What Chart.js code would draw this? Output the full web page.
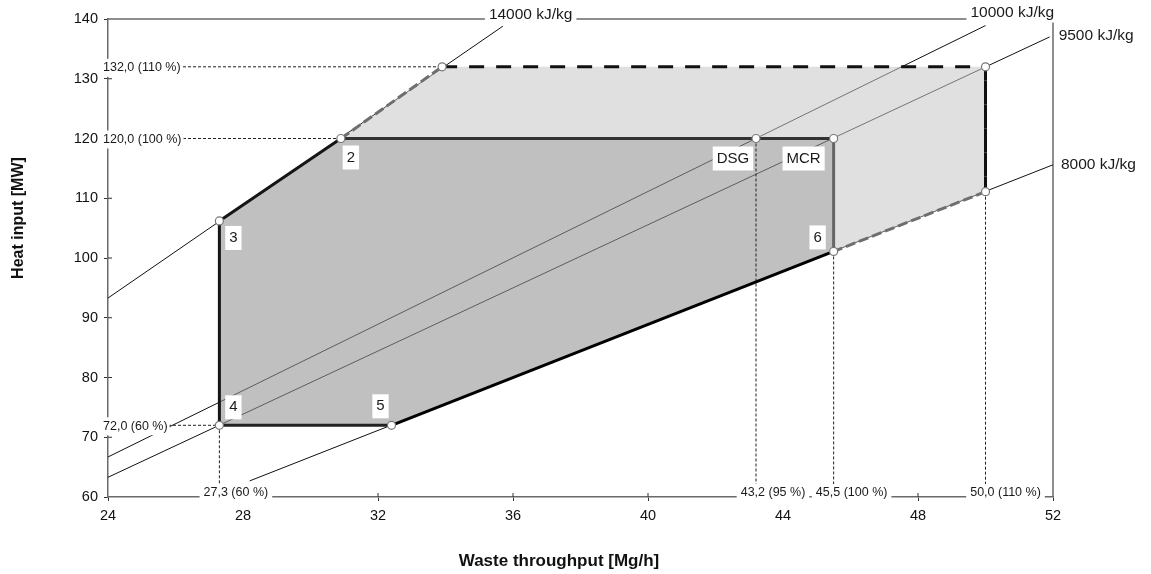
<!DOCTYPE html>
<html lang="en">
<head>
<meta charset="UTF-8">
<title>Combustion diagram</title>
<script src="https://cdn.jsdelivr.net/npm/chart.js"></script>
<style>
  body { margin: 0; background: #fff; }
</style>
</head>
<body>
<canvas id="myChart" width="1151" height="574"></canvas>
<script>
// calorific value lines, end points
const lhvNames = ['14000 kJ/kg', '10000 kJ/kg', '9500 kJ/kg', '8000 kJ/kg'];
const lhvX = [[24, 35.7], [24, 50.0], [24, 51.9], [28.2, 52.0]];
const lhvY = [[93.3, 138.8], [66.7, 138.9], [63.3, 137.0], [62.7, 115.6]];

// operating envelope 3 - 2 - MCR - 6 - 5 - 4
const envNames = ['3', '2', 'MCR', '6', '5', '4'];
const envX = [27.3, 30.9, 45.5, 45.5, 32.4, 27.3];
const envY = [106.2, 120.0, 120.0, 101.1, 72.0, 72.0];

// 110 % overload area: 2 - corner - corner - corner - 6
const overX = [30.9, 33.9, 50.0, 50.0, 45.5];
const overY = [120.0, 132.0, 132.0, 111.1, 101.1];

const dsgX = 43.2, dsgY = 120.0;

// reference values marked on the axes
const refYVals = [132.0, 120.0, 72.0];
const refYEnds = [33.9, 30.9, 27.3];
const refYLabels = ['132,0 (110 %)', '120,0 (100 %)', '72,0 (60 %)'];
const refXVals = [27.3, 43.2, 45.5, 50.0];
const refXStarts = [72.0, 120.0, 101.1, 111.1];
const refXLabels = ['27,3 (60 %)', '43,2 (95 %)', '45,5 (100 %)', '50,0 (110 %)'];

const xTicks = [24, 28, 32, 36, 40, 44, 48, 52];
const yTicks = [60, 70, 80, 90, 100, 110, 120, 130, 140];

const FONT = '"Liberation Sans", Arial, sans-serif';
const AXIS = '#6a6a6a';

function pts(xs, ys) {
    return xs.map((x, i) => ({ x: x, y: ys[i] }));
}

const envPts = pts(envX, envY);
const overPts = pts(overX, overY);

// drawn bottom to top, reversed below (Chart.js puts index 0 on top)
let layers = [];

lhvX.forEach((xs, i) => {
    layers.push({ data: pts(xs, lhvY[i]), borderColor: '#111', borderWidth: 1 });
});

// light grey overload area
layers.push({
    data: overPts.concat([envPts[2], overPts[0]]),
    fill: 'shape', backgroundColor: 'rgba(199,199,199,0.55)',
    borderColor: 'transparent', borderWidth: 0
});
// darker grey operating area
layers.push({
    data: envPts.concat([envPts[0]]),
    fill: 'shape', backgroundColor: 'rgba(147,147,147,0.58)',
    borderColor: 'transparent', borderWidth: 0
});

// dotted reference lines
refYVals.forEach((v, i) => {
    layers.push({ data: [{ x: 24, y: v }, { x: refYEnds[i], y: v }],
        borderColor: '#222', borderWidth: 1, borderDash: [3, 2] });
});
refXVals.forEach((v, i) => {
    layers.push({ data: [{ x: v, y: refXStarts[i] }, { x: v, y: 60 }],
        borderColor: '#222', borderWidth: 1, borderDash: [3, 2] });
});

// dashed border of the overload area
const overColors = ['#6e6e6e', '#111', '#111', '#6e6e6e'];
const overDash = [[10, 4], [15, 12], [14, 10], [10, 4]];
layers.push({
    data: overPts, borderWidth: 3,
    segment: {
        borderColor: c => overColors[c.p0DataIndex],
        borderDash: c => overDash[c.p0DataIndex]
    }
});

// solid border of the operating area
const envColors = ['#151515', '#333', '#666', '#000', '#222', '#151515'];
layers.push({
    data: envPts.concat([envPts[0]]), borderWidth: 3,
    segment: { borderColor: c => envColors[c.p0DataIndex] }
});

// small circles at the corners
layers.push({
    data: envPts.concat(overPts.slice(1, 4), [{ x: dsgX, y: dsgY }]),
    showLine: false, pointRadius: 4, pointBorderWidth: 1.2,
    pointBackgroundColor: '#fff', pointBorderColor: '#777'
});

layers.forEach(d => {
    if (d.showLine === undefined) { d.showLine = true; d.pointRadius = 0; }
});
layers.reverse();

function textBox(ctx, text, x, y, font, align, padX, h) {
    ctx.font = font;
    const w = ctx.measureText(text).width;
    const left = align === 'left' ? x : x - w / 2;
    ctx.fillStyle = '#fff';
    ctx.fillRect(left - padX, y - h / 2, w + 2 * padX, h);
    ctx.fillStyle = '#1a1a1a';
    ctx.textAlign = 'left';
    ctx.textBaseline = 'middle';
    ctx.fillText(text, left, y);
}

// top and right frame lines plus the inner half of the tick marks
const framePlugin = {
    id: 'frame',
    beforeDatasetsDraw(chart) {
        const ctx = chart.ctx, xs = chart.scales.x, ys = chart.scales.y;
        const l = xs.getPixelForValue(24), r = xs.getPixelForValue(52);
        const t = ys.getPixelForValue(140), b = ys.getPixelForValue(60);
        ctx.save();
        ctx.strokeStyle = AXIS;
        ctx.lineWidth = 1.5;
        ctx.beginPath();
        ctx.moveTo(l, t); ctx.lineTo(r, t); ctx.lineTo(r, b);
        ctx.stroke();
        ctx.lineWidth = 1;
        ctx.strokeStyle = '#333';
        ctx.beginPath();
        xTicks.slice(1, -1).forEach(v => {
            const p = xs.getPixelForValue(v);
            ctx.moveTo(p, b); ctx.lineTo(p, b - 4);
        });
        yTicks.slice(1, -1).forEach(v => {
            const p = ys.getPixelForValue(v);
            ctx.moveTo(l, p); ctx.lineTo(l + 4, p);
        });
        ctx.stroke();
        ctx.restore();
    }
};

const labelPlugin = {
    id: 'labels',
    afterDatasetsDraw(chart) {
        const ctx = chart.ctx, xs = chart.scales.x, ys = chart.scales.y;
        const small = '12.5px ' + FONT, mid = '15px ' + FONT, big = '15.5px ' + FONT;
        ctx.save();

        refYVals.forEach((v, i) => {
            textBox(ctx, refYLabels[i], xs.getPixelForValue(24) - 5,
                ys.getPixelForValue(v) + 1, small, 'left', 2, 18);
        });
        const refXdx = [16.5, 17, 18, 20];
        refXVals.forEach((v, i) => {
            textBox(ctx, refXLabels[i], xs.getPixelForValue(v) + refXdx[i],
                ys.getPixelForValue(60) - 4, small, 'center', 4, 18);
        });

        const envDx = [14, 10, -30, -16, -11, 14];
        const envDy = [17, 19, 20, -14, -19, -18];
        envNames.forEach((n, i) => {
            textBox(ctx, n, xs.getPixelForValue(envX[i]) + envDx[i],
                ys.getPixelForValue(envY[i]) + envDy[i], mid, 'center', 4, 24);
        });
        textBox(ctx, 'DSG', xs.getPixelForValue(dsgX) - 23,
            ys.getPixelForValue(dsgY) + 20, mid, 'center', 4, 24);

        const lhvDx = [-14, -15, 9, 8];
        const lhvDy = [-11, -13, -1, 0];
        lhvNames.forEach((n, i) => {
            textBox(ctx, n, xs.getPixelForValue(lhvX[i][1]) + lhvDx[i],
                ys.getPixelForValue(lhvY[i][1]) + lhvDy[i], big, 'left', 4, 20);
        });

        // axis titles
        ctx.fillStyle = '#111';
        ctx.textAlign = 'center';
        ctx.textBaseline = 'middle';
        ctx.font = 'bold 17px ' + FONT;
        ctx.fillText('Waste throughput [Mg/h]', 559, 561);
        ctx.font = 'bold 16px ' + FONT;
        ctx.translate(19, 218);
        ctx.rotate(-Math.PI / 2);
        ctx.fillText('Heat input [MW]', 0, 0);
        ctx.restore();
    }
};

function axis(min, max, ticks, fit) {
    return {
        type: 'linear', min: min, max: max,
        afterBuildTicks: s => { s.ticks = ticks.map(v => ({ value: v })); },
        afterFit: fit,
        ticks: { color: '#111', font: { family: FONT, size: 14.5 }, padding: 6 },
        grid: { drawOnChartArea: false, tickLength: 4, color: '#333', lineWidth: 1 },
        border: { display: true, color: AXIS, width: 1.5 }
    };
}

new Chart(document.getElementById('myChart'), {
    type: 'scatter',
    data: { datasets: layers },
    options: {
        responsive: false,
        animation: false,
        layout: { padding: { top: 19, right: 98, left: 0, bottom: 0 } },
        plugins: { legend: { display: false }, tooltip: { enabled: false } },
        scales: {
            x: axis(24, 52, xTicks, s => { s.height = 77; }),
            y: axis(60, 140, yTicks, s => { s.width = 108; })
        }
    },
    plugins: [framePlugin, labelPlugin]
});
</script>
</body>
</html>
